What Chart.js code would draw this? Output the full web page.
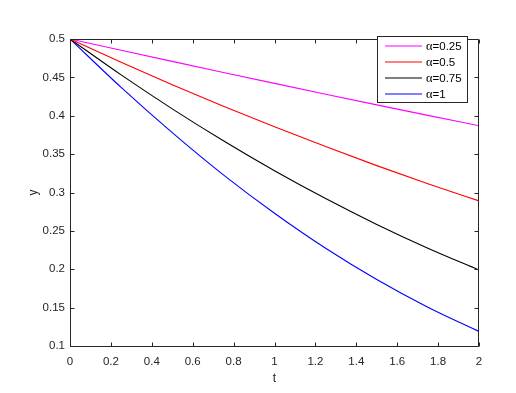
<!DOCTYPE html>
<html>
<head>
<meta charset="utf-8">
<script src="https://cdn.jsdelivr.net/npm/chart.js@4/dist/chart.umd.min.js"></script>
<style>
  html, body { margin: 0; padding: 0; background: #ffffff; }
  #c { display: block; }
</style>
</head>
<body>
<canvas id="c" width="516" height="393"></canvas>
<script>
// ---- data ----
const tValues = [0, 0.25, 0.5, 0.75, 1, 1.25, 1.5, 1.75, 2];
const yAlpha025 = [0.5, 0.4853, 0.4708, 0.4564, 0.4422, 0.4281, 0.4142, 0.4005, 0.387];
const yAlpha05  = [0.5, 0.4697, 0.4405, 0.4125, 0.3856, 0.3598, 0.3350, 0.3115, 0.289];
const yAlpha075 = [0.5, 0.4532, 0.4090, 0.3674, 0.3284, 0.2921, 0.2584, 0.2274, 0.199];
const yAlpha1   = [0.5, 0.4370, 0.3780, 0.3230, 0.2730, 0.2274, 0.1867, 0.1506, 0.119];
const seriesLabels = ['\u03b1=0.25', '\u03b1=0.5', '\u03b1=0.75', '\u03b1=1'];
const xTickValues = [0, 0.2, 0.4, 0.6, 0.8, 1, 1.2, 1.4, 1.6, 1.8, 2];
const xTickLabels = ['0', '0.2', '0.4', '0.6', '0.8', '1', '1.2', '1.4', '1.6', '1.8', '2'];
const yTickValues = [0.1, 0.15, 0.2, 0.25, 0.3, 0.35, 0.4, 0.45, 0.5];
const yTickLabels = ['0.1', '0.15', '0.2', '0.25', '0.3', '0.35', '0.4', '0.45', '0.5'];

const AXIS_COLOR = '#262626';
const TICK_FONT = { family: '"Liberation Sans", Arial, sans-serif', size: 11.5 };

function toPoints(ys) { return tValues.map((t, i) => ({ x: t, y: ys[i] })); }

const colors = ['#ff00ff', '#ff0000', '#000000', '#0000ff'];
const allSeries = [yAlpha025, yAlpha05, yAlpha075, yAlpha1];

const datasets = allSeries.map((ys, i) => ({
  label: seriesLabels[i],
  data: toPoints(ys),
  borderColor: colors[i],
  backgroundColor: colors[i],
  borderWidth: 1.1,
  pointRadius: 0,
  fill: false,
  cubicInterpolationMode: 'monotone'
}));

// box + inward ticks on all four sides (MATLAB style)
const boxPlugin = {
  id: 'boxTicks',
  afterDraw(chart) {
    const ctx = chart.ctx;
    const a = chart.chartArea;
    const xs = chart.scales.x, ys = chart.scales.y;
    const L = Math.round(a.left) + 0.5, R = Math.round(a.right) - 0.5;
    const T = Math.round(a.top) + 0.5, B = Math.round(a.bottom) + 0.5;
    ctx.save();
    ctx.strokeStyle = AXIS_COLOR;
    ctx.lineWidth = 1;
    ctx.beginPath();
    ctx.rect(L, T, R - L, B - T);
    const len = 4;
    xTickValues.forEach(v => {
      const px = Math.round(xs.getPixelForValue(v)) + 0.5;
      ctx.moveTo(px, B); ctx.lineTo(px, B - len);
      ctx.moveTo(px, T); ctx.lineTo(px, T + len);
    });
    yTickValues.forEach(v => {
      const py = Math.round(ys.getPixelForValue(v)) + 0.5;
      ctx.moveTo(L, py); ctx.lineTo(L + len, py);
      ctx.moveTo(R, py); ctx.lineTo(R - len, py);
    });
    ctx.stroke();
    ctx.restore();
  }
};

// MATLAB-like legend box in the upper right
const legendPlugin = {
  id: 'matlabLegend',
  afterDraw(chart) {
    const ctx = chart.ctx;
    const bx = 377.5, by = 36.5, bw = 90, bh = 66;
    ctx.save();
    ctx.fillStyle = '#ffffff';
    ctx.fillRect(bx, by, bw, bh);
    ctx.strokeStyle = AXIS_COLOR;
    ctx.lineWidth = 1;
    ctx.strokeRect(bx, by, bw, bh);
    const rowY = [46, 62, 78, 94];
    chart.data.datasets.forEach((ds, i) => {
      const y = rowY[i];
      ctx.strokeStyle = ds.borderColor;
      ctx.lineWidth = 1.2;
      ctx.beginPath();
      ctx.moveTo(385, y); ctx.lineTo(422, y);
      ctx.stroke();
      const lbl = ds.label;
      const greek = lbl.charAt(0), rest = lbl.slice(1);
      ctx.fillStyle = '#000000';
      ctx.textBaseline = 'middle';
      ctx.textAlign = 'left';
      ctx.font = '12.5px "Liberation Serif", "Times New Roman", serif';
      ctx.fillText(greek, 426, y + 1);
      const gw = ctx.measureText(greek).width;
      ctx.font = '11.5px "Liberation Sans", Arial, sans-serif';
      ctx.fillText(rest, 426 + gw, y + 0.5);
    });
    ctx.restore();
  }
};

new Chart(document.getElementById('c'), {
  type: 'line',
  data: { datasets },
  options: {
    responsive: false,
    animation: false,
    devicePixelRatio: 1,
    layout: { padding: { left: 0, right: 37, top: 39, bottom: 0 } },
    plugins: { legend: { display: false }, tooltip: { enabled: false } },
    scales: {
      x: {
        type: 'linear',
        min: 0, max: 2,
        afterFit(s) { s.height = 47; },
        afterBuildTicks(s) { s.ticks = xTickValues.map(v => ({ value: v })); },
        grid: { display: false, drawTicks: false },
        border: { display: false },
        ticks: {
          font: TICK_FONT, color: AXIS_COLOR, padding: 9, maxRotation: 0, autoSkip: false,
          callback: (v, i) => xTickLabels[i]
        },
        title: {
          display: true, text: 't', color: AXIS_COLOR,
          font: { family: '"Liberation Sans", Arial, sans-serif', size: 12 },
          padding: { top: 0, bottom: 7 }
        }
      },
      y: {
        type: 'linear',
        min: 0.1, max: 0.5,
        afterFit(s) { s.width = 70; },
        afterBuildTicks(s) { s.ticks = yTickValues.map(v => ({ value: v })); },
        grid: { display: false, drawTicks: false },
        border: { display: false },
        ticks: {
          font: TICK_FONT, color: AXIS_COLOR, padding: 5, autoSkip: false,
          callback: (v, i) => yTickLabels[i]
        },
        title: {
          display: true, text: 'y', color: AXIS_COLOR,
          font: { family: '"Liberation Sans", Arial, sans-serif', size: 12 },
          padding: { top: 26, bottom: 0 }
        }
      }
    }
  },
  plugins: [boxPlugin, legendPlugin]
});
</script>
</body>
</html>
